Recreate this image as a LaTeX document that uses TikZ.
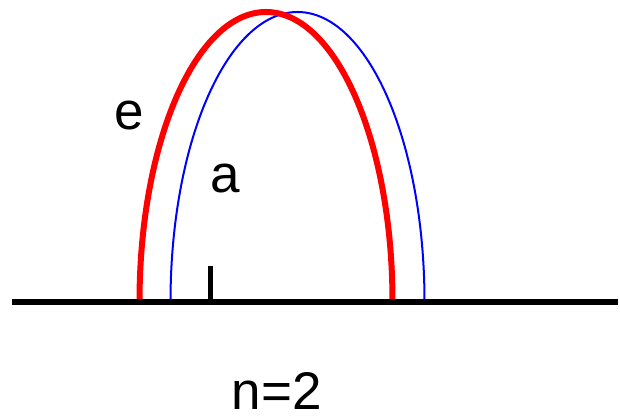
\documentclass[tikz,border=0pt]{standalone}
\usepackage{fontspec}
\setmainfont{Liberation Sans}
\usepackage{xcolor}
\definecolor{archred}{HTML}{FF0000}
\definecolor{archblue}{HTML}{0000FF}
\usepackage{tikz}
\usetikzlibrary{positioning}

\begin{document}
\begin{tikzpicture}[
  x=0.5pt, y=0.5pt,
  lbl/.style={font=\fontsize{26.5}{32}\selectfont, inner sep=0pt},
  ground/.style={line width=3pt, color=black},
  redarch/.style={line width=3pt, color=archred},
  bluearch/.style={line width=1pt, color=archblue}
]
\useasboundingbox (0,0) rectangle (620,416);

% Blue arch (thin)
\draw[bluearch] (170.5,114) arc[start angle=180, end angle=0, x radius=127, y radius=290];

% Red arch (thick)
\draw[redarch] (139.5,114) arc[start angle=180, end angle=0, x radius=126.5, y radius=290];

% Baseline
\draw[ground] (12,114) -- (618,114);

% Tick mark
\draw[line width=2.5pt] (210.5,114) -- (210.5,150);

% Labels
\node[lbl] (e) at (129,300) {e};
\node[lbl] (a) at (225,237) {a};
\node[lbl, anchor=base] (n) at (276.7,6) {n=2};

\end{tikzpicture}
\end{document}
